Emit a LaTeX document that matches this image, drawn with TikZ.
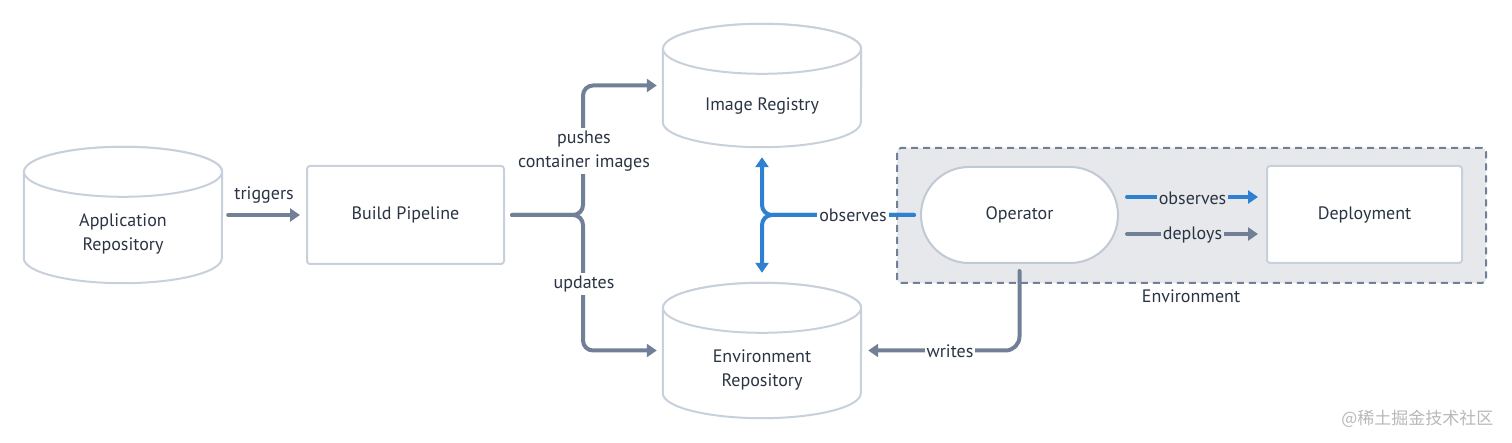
\documentclass[tikz,border=0pt]{standalone}
\usepackage{fontspec}
\setmainfont{PT Sans}
\newfontfamily\cjkfont{Noto Sans CJK SC}
\usetikzlibrary{arrows.meta,calc}
\definecolor{txt}{HTML}{2A3443}
\definecolor{garr}{HTML}{718096}
\definecolor{barr}{HTML}{2F80D1}
\definecolor{strk}{HTML}{C8D1DB}
\definecolor{envfill}{HTML}{E6E8EC}
\definecolor{wm}{HTML}{B8B8B8}
\tikzset{
  lbl/.style={text=txt, font=\fontsize{18}{24}\selectfont, inner sep=3pt, align=center},
  garrow/.style={draw=garr, line width=4pt, line cap=round, -{Triangle[length=10pt,width=13pt]}},
  barrow/.style={draw=barr, line width=4pt, line cap=round, -{Triangle[length=10pt,width=13pt]}},
  boxnode/.style={draw=strk, line width=2pt, fill=white, rounded corners=3pt, text=txt, font=\fontsize{18}{24}\selectfont},
  cylbox/.style={inner sep=0pt},
  cylpath/.style={draw=strk, line width=2pt, fill=white},
}
\newcommand\mycyl[2]{%
  \draw[cylpath] ([yshift=-25pt]#1.north west) -- ([yshift=25pt]#1.south west)
    arc[start angle=180,end angle=360,x radius=#2,y radius=25pt]
    -- ([yshift=-25pt]#1.north east)
    arc[start angle=0,end angle=180,x radius=#2,y radius=25pt] -- cycle;
  \draw[cylpath] ([yshift=-25pt]#1.north) ellipse[x radius=#2,y radius=25pt];
}
\begin{document}
\begin{tikzpicture}[x=1pt,y=-1pt]
\useasboundingbox (0,0) rectangle (1512,443);
% environment box
\node[draw=garr, dash pattern=on 7pt off 5pt, line width=2pt, fill=envfill, rounded corners=4pt,
  minimum width=589pt, minimum height=135pt, inner sep=0pt] (env) at (1191.5,215.5) {};
\node[lbl] (envl) at (1191,296) {Environment};
% cylinders
\node[cylbox, minimum width=198pt, minimum height=136pt] (appr) at (123,215) {};
\mycyl{appr}{99pt}
\node[lbl] (apprt) at ([yshift=-19pt]appr.center) {Application\\Repository};
\node[cylbox, minimum width=198pt, minimum height=123pt] (ir) at (762,85.5) {};
\mycyl{ir}{99pt}
\node[lbl] (irt) at ([yshift=-20.5pt]ir.center) {Image Registry};
\node[cylbox, minimum width=198pt, minimum height=135pt] (er) at (762,350.5) {};
\mycyl{er}{99pt}
\node[lbl] (ert) at ([yshift=-19.5pt]er.center) {Environment\\Repository};
% boxes
\node[boxnode, minimum width=197pt, minimum height=98pt] (build) at (405.5,215) {\raisebox{-1pt}{Build Pipeline}};
\node[boxnode, minimum width=197pt, minimum height=96pt, rounded corners=48pt, draw=strk!90!gray] (op) at (1019.5,215) {\raisebox{-1pt}{Operator}};
\node[boxnode, minimum width=195pt, minimum height=97pt] (dep) at (1364.5,214.5) {\raisebox{-1pt}{Deployment}};
% triggers
\draw[garrow] ([xshift=6pt]appr.east) -- ([xshift=-6pt]build.west)
  node[lbl, midway, above=7pt] (trig) {triggers};
% bracket
\coordinate (bx) at (583,215);
\draw[garrow, rounded corners=10pt] ([xshift=7pt]build.east) -- (bx) |- ([xshift=-6pt]ir.west);
\draw[garrow, rounded corners=10pt] ([xshift=7pt]build.east) -- (bx) |- ([xshift=-6pt]er.west);
\node[lbl, fill=white] (push) at (584,151) {pushes\\container images};
\node[lbl, fill=white] (upd) at (584,284) {updates};
% blue observes
\coordinate (jx) at (762,215);
\draw[barrow, rounded corners=10pt] ([xshift=-6pt]op.west) -| ([yshift=-10pt]ir.south);
\draw[barrow, rounded corners=10pt] ([xshift=-6pt]op.west) -| ([yshift=10pt]er.north);
\node[lbl, fill=white, inner xsep=2pt] (obs1) at (853,215) {observes};
% inside env
\draw[barrow] ([xshift=8pt,yshift=18pt]op.east) -- ([xshift=-8pt,yshift=18pt]dep.west |- op.east)
  node[lbl, midway, fill=envfill, inner xsep=2pt, yshift=-1pt] (obs2) {observes};
\draw[garrow] ([xshift=8pt,yshift=-19pt]op.east) -- ([xshift=-8pt,yshift=-19pt]dep.west |- op.east)
  node[lbl, midway, fill=envfill, inner xsep=2pt, yshift=-1pt] (depl) {deploys};
% writes
\draw[garrow, rounded corners=14pt] ([yshift=-7pt]op.south) |- ([xshift=7pt]er.east);
\node[lbl, fill=white, inner xsep=2pt] (wr) at (950,351) {writes};
% watermark
\node[text=wm, font=\cjkfont\fontsize{17}{20}\selectfont, anchor=east] (wmk) at (1497,419) {@稀土掘金技术社区};
\end{tikzpicture}
\end{document}
